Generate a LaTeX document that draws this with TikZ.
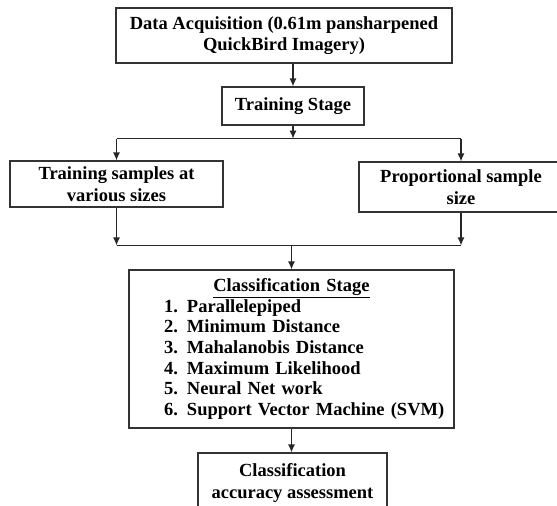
\documentclass[tikz,border=0pt]{standalone}
\usepackage{fontspec}
\setmainfont{Liberation Serif}
\usetikzlibrary{arrows.meta, positioning}

\newcommand{\methoditem}[2]{\hspace*{31pt}\makebox[23pt][l]{#1.}#2}

\begin{document}
\begin{tikzpicture}[x=1pt, y=-1pt, >={Latex[length=8pt,width=7pt]},
    stagebox/.style={draw=black!80, line width=1.2pt, align=center, inner sep=2pt,
      font=\fontsize{18.5}{21.5}\selectfont\bfseries},
    wire/.style={draw=black!85, line width=1.2pt},
    link/.style={wire, ->}]
  \clip (0,0) rectangle (557,506);
  \node[stagebox, minimum width=336, minimum height=55] (acq)   at (284,35.5) {Data Acquisition (0.61m pansharpened\\QuickBird Imagery)};
  \node[stagebox, minimum width=142, minimum height=38] (train) at (293,106)   {Training Stage};
  \node[stagebox, minimum width=213, minimum height=46] (sizes) at (116.5,184) {Training samples at\\various sizes};
  \node[stagebox, minimum width=204, minimum height=50] (prop)  at (461,187)   {Proportional sample\\size};
  \node[stagebox, text width=317, inner sep=4pt, minimum height=158, align=left,
        font=\fontsize{18.5}{20.7}\selectfont\bfseries] (cls) at (291.5,349) {%
    \makebox[\linewidth]{\underline{Classification Stage}}\\
    \methoditem{1}{Parallelepiped}\\
    \methoditem{2}{Minimum Distance}\\
    \methoditem{3}{Mahalanobis Distance}\\
    \methoditem{4}{Maximum Likelihood}\\
    \methoditem{5}{Neural Net work}\\
    \methoditem{6}{Support Vector Machine (SVM)}};
  \node[stagebox, minimum width=189, minimum height=60] (acc)   at (292.5,483) {Classification\\accuracy assessment};

  \coordinate[below=13pt of train.south] (split);
  \coordinate[above=24pt of cls.north]   (merge);

  \draw[link] (acq.south -| train.north) -- (train.north);
  \draw[link] (train.south) -- (split);
  \draw[wire] (split -| sizes) -- (split -| prop);
  \draw[link] (split -| sizes) -- (sizes.north);
  \draw[link] (split -| prop) -- (prop.north);
  \draw[link] (sizes.south) -- (merge -| sizes);
  \draw[link] (prop.south) -- (merge -| prop);
  \draw[wire] (merge -| sizes) -- (merge -| prop);
  \draw[link] (merge) -- (cls.north);
  \draw[link] (cls.south) -- (cls.south |- acc.north);
\end{tikzpicture}
\end{document}
